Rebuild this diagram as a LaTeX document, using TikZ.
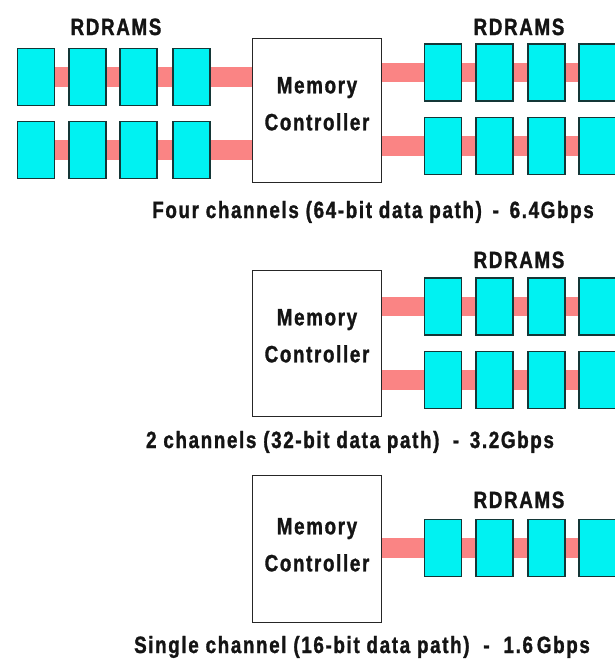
\documentclass[tikz,border=0pt]{standalone}
\usepackage{fontspec}
\setmainfont{Liberation Sans}
\newfontfamily\diagfont{Liberation Sans}[FakeStretch=0.8, LetterSpace=7, BoldFeatures={FakeBold=1.3}]
\pgfdeclarelayer{bg}
\pgfsetlayers{bg,main}
\definecolor{chipfill}{RGB}{0,242,242}
\definecolor{chipline}{RGB}{20,55,55}
\definecolor{buscol}{RGB}{250,132,132}
\definecolor{txtcol}{RGB}{20,20,20}
\begin{document}
\begin{tikzpicture}[x=1pt,y=-1pt,
  chip/.style={draw=chipline, fill=chipfill, line width=1.5pt, minimum width=37pt, minimum height=57pt, inner sep=0pt},
  ctrl/.style={draw=black!85, fill=white, line width=1.2pt, minimum width=129pt, minimum height=144pt, inner sep=0pt},
  txt/.style={font=\diagfont\fontsize{23.5}{37}\selectfont\bfseries, inner sep=0pt, text=txtcol},
  bus/.style={draw=buscol, line width=19.5pt}]
\useasboundingbox (0,0) rectangle (615,662);

% ---------- Section 1: four channels ----------
\node[ctrl] (c1) at (317,110.5) {};
\node[txt, align=center, anchor=north] (c1t) at ([yshift=-39pt]c1.north) {Memory\\Controller};
\foreach \i/\x in {1/36,2/87.5,3/138.5,4/191.5}{
  \node[chip] (la\i) at (\x,77) {};
  \node[chip] (lb\i) at (\x,150) {};
}
\foreach \i/\x in {1/443,2/494.5,3/546.5,4/597.5}{
  \node[chip] (ra\i) at (\x,72.5) {};
  \node[chip] (rb\i) at (\x,146) {};
}
\node[txt, anchor=base] (rd1) at (116,35) {RDRAMS};
\node[txt, anchor=base] (rd2) at (519,35) {RDRAMS};
\node[txt, anchor=base] (cap1) at (373,218) {Four channels (64-bit data path)\, - \,6.4Gbps};

% ---------- Section 2: two channels ----------
\node[ctrl, minimum height=146pt] (c2) at (317,343.5) {};
\node[txt, align=center, anchor=north] (c2t) at ([yshift=-39pt]c2.north) {Memory\\Controller};
\foreach \i/\x in {1/443,2/494.5,3/546.5,4/597.5}{
  \node[chip] (ma\i) at (\x,306.5) {};
  \node[chip] (mb\i) at (\x,380) {};
}
\node[txt, anchor=base] (rd3) at (519,268) {RDRAMS};
\node[txt, anchor=base] (cap2) at (350,448) {2 channels (32-bit data path)\; - \,3.2Gbps};

% ---------- Section 3: single channel ----------
\node[ctrl, minimum height=147pt] (c3) at (317,549) {};
\node[txt, align=center, anchor=north] (c3t) at ([yshift=-43pt]c3.north) {Memory\\Controller};
\foreach \i/\x in {1/443,2/494.5,3/546.5,4/597.5}{
  \node[chip] (sa\i) at (\x,548) {};
}
\node[txt, anchor=base] (rd4) at (519,508) {RDRAMS};
\node[txt, anchor=base] (cap3) at (362,653) {Single channel (16-bit data path)\hspace{7pt} - \hspace{7pt}1.6\,Gbps};

% ---------- buses ----------
\begin{pgfonlayer}{bg}
  \fill[white] (0,0) rectangle (615,662);
  \draw[bus] (la1.center) -- (c1.west |- la1.center);
  \draw[bus] (lb1.center) -- (c1.west |- lb1.center);
  \draw[bus] (c1.east |- ra1.center) -- (ra4.center);
  \draw[bus] (c1.east |- rb1.center) -- (rb4.center);
  \draw[bus] (c2.east |- ma1.center) -- (ma4.center);
  \draw[bus] (c2.east |- mb1.center) -- (mb4.center);
  \draw[bus] (c3.east |- sa1.center) -- (sa4.center);
\end{pgfonlayer}
\end{tikzpicture}
\end{document}
